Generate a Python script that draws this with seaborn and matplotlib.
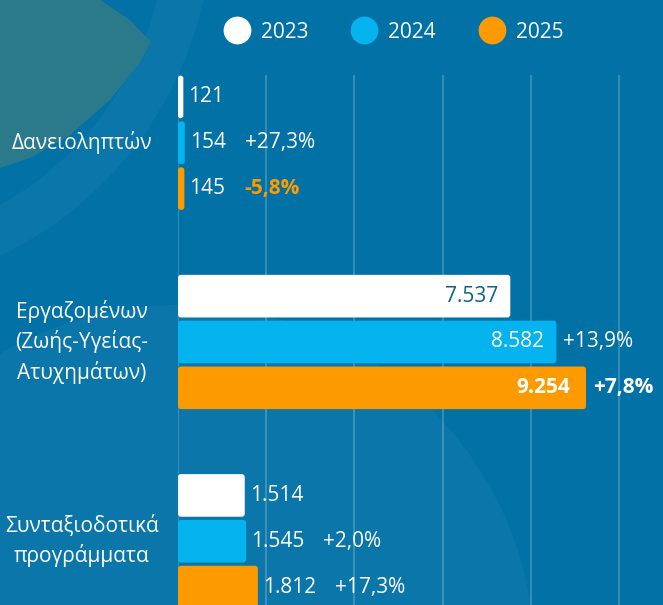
import pandas as pd
import matplotlib.pyplot as plt
import seaborn as sns
from matplotlib.lines import Line2D
from matplotlib.patches import Polygon, Circle, Wedge, FancyBboxPatch

categories = ['Δανειοληπτών', 'Εργαζομένων\n(Ζωής-Υγείας-\nΑτυχημάτων)', 'Συνταξιοδοτικά\nπρογράμματα']
years = ['2023', '2024', '2025']
values_2023 = [121, 7537, 1514]
values_2024 = [154, 8582, 1545]
values_2025 = [145, 9254, 1812]
labels_2023 = ['121', '7.537', '1.514']
labels_2024 = ['154', '8.582', '1.545']
labels_2025 = ['145', '9.254', '1.812']
pct_2024 = ['+27,3%', '+13,9%', '+2,0%']
pct_2025 = ['-5,8%', '+7,8%', '+17,3%']

colors = ['#ffffff', '#05b3ef', '#fd9a00']
bg_color = '#0271a6'

rows = []
for yr, vals in zip(years, [values_2023, values_2024, values_2025]):
    for cat, v in zip(categories, vals):
        rows.append({'category': cat, 'year': yr, 'value': v})
df = pd.DataFrame(rows)

sns.set_style('white')
plt.rcParams['font.family'] = ['Open Sans', 'DejaVu Sans']

fig = plt.figure(figsize=(6.63, 6.05), dpi=100)
fig.patch.set_facecolor(bg_color)

# background decoration (pixel coords)
bg = fig.add_axes([0, 0, 1, 1], zorder=-5)
bg.set_xlim(0, 663)
bg.set_ylim(605, 0)
bg.axis('off')
bg.add_patch(Circle((180, 660), 355, color='white', alpha=0.04, lw=0))
bg.add_patch(Wedge((-160, -80), 372, 0, 90, width=45, color='white', alpha=0.035, lw=0))
bg.add_patch(Polygon([(0, 0), (100, 0), (130, 20), (151, 42), (140, 62), (110, 100),
                      (70, 135), (30, 158), (0, 168)], color='#2b7a8c', lw=0))

ax = fig.add_axes([178 / 663, 0, 485 / 663, 530 / 605])
ax.set_facecolor('none')
sns.barplot(data=df, y='category', x='value', hue='year', hue_order=years,
            palette=colors, orient='h', width=0.69, gap=0.07, ax=ax,
            legend=False, saturation=1, linewidth=0, zorder=3)

ax.set_xlim(0, 11000)
ax.set_ylim(2.32, -0.34)
ax.set_xticks(range(0, 11000, 2000))
ax.set_xticklabels([])
ax.set_yticks([])
ax.set_xlabel('')
ax.set_ylabel('')
ax.tick_params(length=0)
ax.grid(axis='x', color='white', alpha=0.22, lw=1.3, zorder=0)
ax.set_axisbelow(True)
for s in ax.spines.values():
    s.set_visible(False)

# rounded bar corners (swap seaborn rectangles for rounded boxes)
px_x = 485 / 11000.0
px_y = 530 / 2.66
for cont in ax.containers:
    for bar in cont:
        x, y, w, hgt = bar.get_x(), bar.get_y(), bar.get_width(), bar.get_height()
        r = min(3 / px_x, w / 2)
        box = FancyBboxPatch((x, y), w, hgt,
                             boxstyle='round,pad=0,rounding_size=%f' % r,
                             mutation_aspect=px_x / px_y,
                             facecolor=bar.get_facecolor(), lw=0, zorder=3)
        ax.add_patch(box)
        bar.set_visible(False)

fs = 15
# category labels
for i, cat in enumerate(categories):
    ax.annotate(cat, xy=(82, i), xycoords=('figure pixels', 'data'),
                ha='center', va='center', color='white', fontsize=fs,
                linespacing=1.4, annotation_clip=False)

# value labels
inside = {(0, 1): '#0d5f8f', (1, 1): 'white', (2, 1): 'white'}
all_labels = [labels_2023, labels_2024, labels_2025]
value_texts = {}
for h, cont in enumerate(ax.containers):
    for i, bar in enumerate(cont):
        w = bar.get_width()
        yc = bar.get_y() + bar.get_height() / 2
        if (h, i) in inside:
            t = ax.annotate(all_labels[h][i], xy=(w, yc), xytext=(-12 if h < 2 else -16, 0),
                            textcoords='offset pixels', ha='right', va='center',
                            color=inside[(h, i)], fontsize=fs,
                            fontweight='bold' if h == 2 else 'normal', zorder=5)
        else:
            t = ax.annotate(all_labels[h][i], xy=(w, yc), xytext=(5, 0),
                            textcoords='offset pixels', ha='left', va='center',
                            color='white', fontsize=fs, zorder=5)
        value_texts[(h, i)] = (t, w, yc)

fig.canvas.draw()
renderer = fig.canvas.get_renderer()
for h, pcts in [(1, pct_2024), (2, pct_2025)]:
    for i, p in enumerate(pcts):
        t, w, yc = value_texts[(h, i)]
        if (h, i) in inside:
            x0 = ax.transData.transform((w, yc))[0] + 7
        else:
            x0 = t.get_window_extent(renderer).x1 + 19
        bold = (h == 2 and i in (0, 1))
        col = '#fd9a00' if (h == 2 and i == 0) else 'white'
        ax.annotate(p, xy=(x0, yc), xycoords=('figure pixels', 'data'),
                    ha='left', va='center', color=col, fontsize=fs,
                    fontweight='bold' if bold else 'normal', annotation_clip=False)

handles = [Line2D([0], [0], marker='o', color='none', markerfacecolor=c,
                  markeredgecolor='none', markersize=20) for c in colors]
leg = fig.legend(handles, years, loc='center', bbox_to_anchor=(394 / 663, 1 - 32 / 605),
                 ncol=3, frameon=False, fontsize=fs, labelcolor='white',
                 handletextpad=0.55, columnspacing=2.1, handlelength=1.2)

fig.savefig('out.png', dpi=100, facecolor=fig.get_facecolor())
